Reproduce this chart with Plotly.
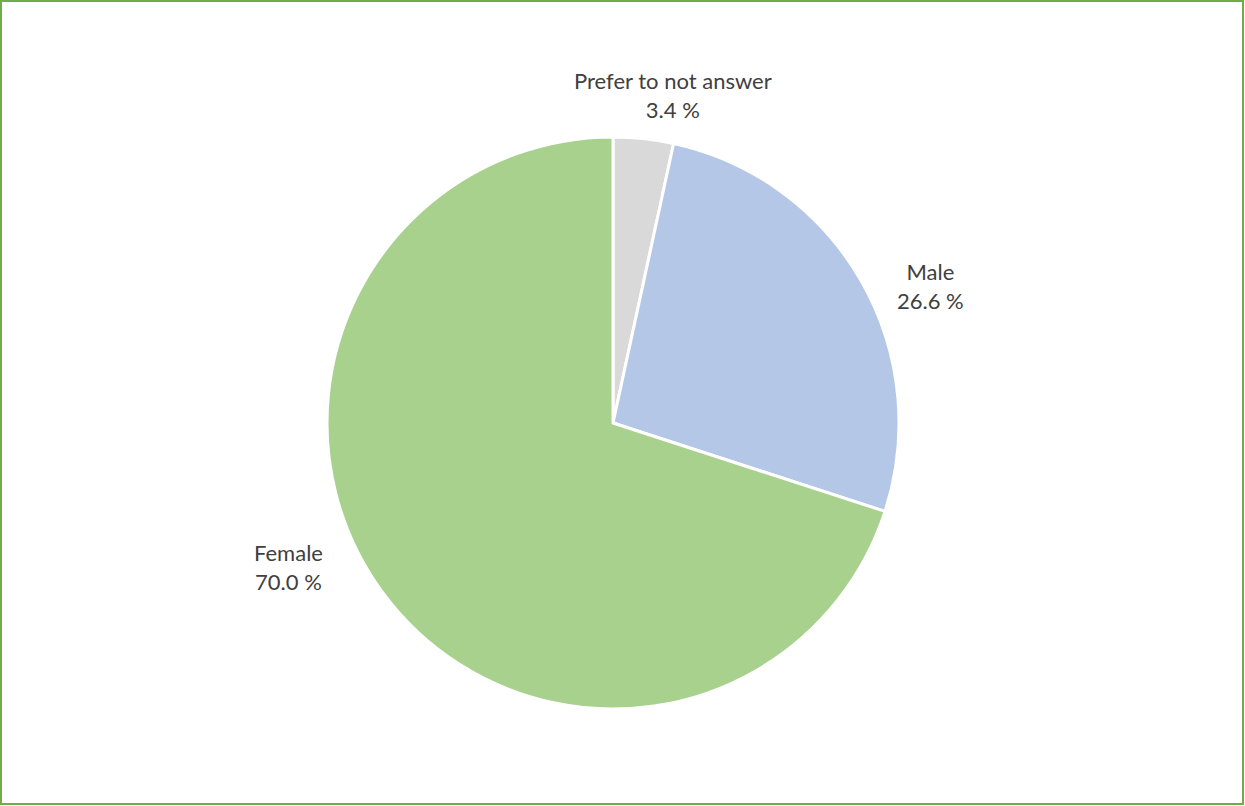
import plotly.graph_objects as go

W, H = 1245, 806

labels = ["Prefer to not answer", "Male", "Female"]
values = [3.4, 26.6, 70.0]
colors = ["#D9D9D9", "#B4C7E7", "#A9D18E"]

# label anchor points (pixels) in the Excel-style "best fit" layout
label_pos = {
    "Prefer to not answer": (673, 95),
    "Male": (930, 286),
    "Female": (288, 567),
}


def px(x, y):
    """Pixel position -> paper coords."""
    return x / W, 1 - y / H


fig = go.Figure()
fig.add_trace(go.Pie(
    labels=labels,
    values=values,
    sort=False,
    direction="clockwise",
    rotation=0,
    marker=dict(colors=colors, line=dict(color="white", width=3)),
    textinfo="none",
    hoverinfo="label+percent",
    showlegend=False,
    domain=dict(x=[327 / W, 899 / W], y=[1 - 709 / H, 1 - 137 / H]),
))

for lab, val in zip(labels, values):
    x, y = px(*label_pos[lab])
    fig.add_annotation(
        x=x, y=y, xref="paper", yref="paper",
        text=f"{lab}<br>{val:.1f} %",
        showarrow=False, xanchor="center", yanchor="middle",
        font=dict(family="Lato", size=22, color="#404040"),
    )

fig.add_shape(
    type="rect", xref="paper", yref="paper",
    x0=1 / W, x1=1 - 2 / W, y0=2 / H, y1=1 - 1 / H,
    line=dict(color="#70AD47", width=2),
)

fig.update_layout(
    width=W, height=H,
    margin=dict(l=0, r=0, t=0, b=0),
    paper_bgcolor="white",
    plot_bgcolor="white",
)

# drop the default page margin so the figure sits at the window corner
fig.write_html(
    "out.html",
    config={"displayModeBar": False},
    post_script="document.body.style.margin='0';document.body.style.overflow='hidden';",
)
